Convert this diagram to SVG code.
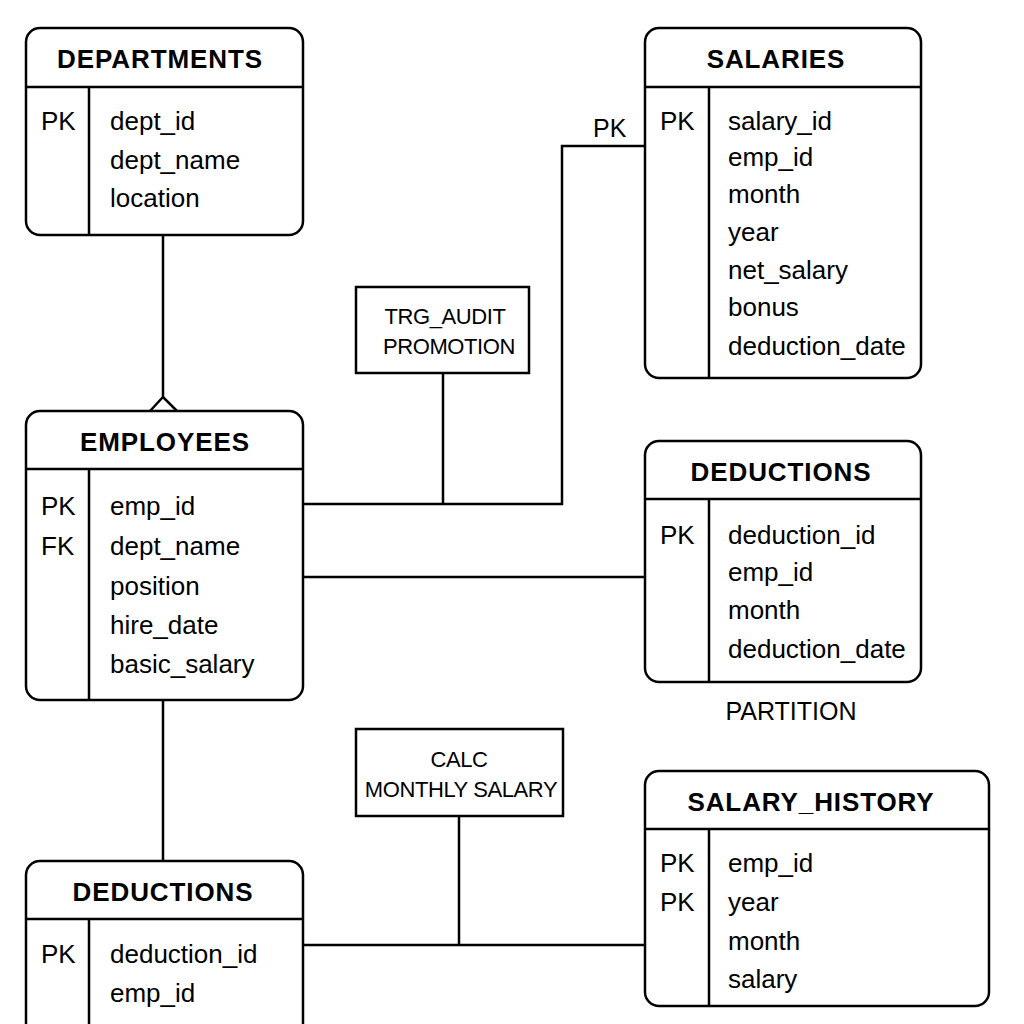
<svg xmlns="http://www.w3.org/2000/svg" width="1024" height="1024" viewBox="0 0 1024 1024">
<style>
.box{fill:#fff;stroke:#000;stroke-width:2.5}
.ln{fill:none;stroke:#000;stroke-width:2.5}
.t{font-family:"Liberation Sans",Arial,sans-serif;font-size:26px;font-weight:bold;text-anchor:middle;fill:#000;letter-spacing:0.9px}
.f{font-family:"Liberation Sans",Arial,sans-serif;font-size:26px;fill:#000}
.s{font-family:"Liberation Sans",Arial,sans-serif;font-size:22px;fill:#000;text-anchor:middle;letter-spacing:-0.4px}
</style>
<rect width="1024" height="1024" fill="#fff"/>
<g id="connectors">
<line class="ln" x1="163" y1="235" x2="163" y2="397"/>
<polyline class="ln" points="150,411 163,397 177,411"/>
<line class="ln" x1="163" y1="700" x2="163" y2="861"/>
<polyline class="ln" points="303,504 562,504 562,146 645,146"/>
<line class="ln" x1="443" y1="373" x2="443" y2="504"/>
<line class="ln" x1="303" y1="577" x2="645" y2="577"/>
<line class="ln" x1="303" y1="945" x2="645" y2="945"/>
<line class="ln" x1="459" y1="816" x2="459" y2="945"/>
<text class="f" x="593" y="137" style="font-size:25px">PK</text>
<text class="f" x="791" y="720" text-anchor="middle" style="font-size:25px">PARTITION</text>
</g>
<g id="departments">
<rect class="box" x="26" y="28" width="277" height="207" rx="14"/>
<line class="ln" x1="26" y1="87" x2="303" y2="87"/>
<line class="ln" x1="89" y1="87" x2="89" y2="235"/>
<text class="t" x="160" y="68">DEPARTMENTS</text>
<text class="f" x="41" y="130">PK</text>
<text class="f" x="110" y="130">dept_id</text>
<text class="f" x="110" y="169">dept_name</text>
<text class="f" x="110" y="207">location</text>
</g>
<g id="employees">
<rect class="box" x="26" y="411" width="277" height="289" rx="14"/>
<line class="ln" x1="26" y1="469" x2="303" y2="469"/>
<line class="ln" x1="89" y1="469" x2="89" y2="700"/>
<text class="t" x="165" y="451">EMPLOYEES</text>
<text class="f" x="41" y="515">PK</text>
<text class="f" x="41" y="555">FK</text>
<text class="f" x="110" y="515">emp_id</text>
<text class="f" x="110" y="555">dept_name</text>
<text class="f" x="110" y="595">position</text>
<text class="f" x="110" y="634">hire_date</text>
<text class="f" x="110" y="673">basic_salary</text>
</g>
<g id="deductions_bottom">
<rect class="box" x="26" y="861" width="277" height="190" rx="14"/>
<line class="ln" x1="26" y1="919" x2="303" y2="919"/>
<line class="ln" x1="89" y1="919" x2="89" y2="1030"/>
<text class="t" x="163" y="901">DEDUCTIONS</text>
<text class="f" x="41" y="963">PK</text>
<text class="f" x="110" y="963">deduction_id</text>
<text class="f" x="110" y="1002">emp_id</text>
</g>
<g id="salaries">
<rect class="box" x="645" y="28" width="276" height="350" rx="14"/>
<line class="ln" x1="645" y1="87" x2="921" y2="87"/>
<line class="ln" x1="709" y1="87" x2="709" y2="378"/>
<text class="t" x="776" y="68">SALARIES</text>
<text class="f" x="660" y="130">PK</text>
<text class="f" x="728" y="130">salary_id</text>
<text class="f" x="728" y="166">emp_id</text>
<text class="f" x="728" y="203">month</text>
<text class="f" x="728" y="241">year</text>
<text class="f" x="728" y="279">net_salary</text>
<text class="f" x="728" y="316">bonus</text>
<text class="f" x="728" y="355">deduction_date</text>
</g>
<g id="deductions_right">
<rect class="box" x="645" y="441" width="276" height="241" rx="14"/>
<line class="ln" x1="645" y1="499" x2="921" y2="499"/>
<line class="ln" x1="709" y1="499" x2="709" y2="682"/>
<text class="t" x="781" y="481">DEDUCTIONS</text>
<text class="f" x="660" y="544">PK</text>
<text class="f" x="728" y="544">deduction_id</text>
<text class="f" x="728" y="581">emp_id</text>
<text class="f" x="728" y="619">month</text>
<text class="f" x="728" y="658">deduction_date</text>
</g>
<g id="salary_history">
<rect class="box" x="645" y="771" width="344" height="235" rx="14"/>
<line class="ln" x1="645" y1="829" x2="989" y2="829"/>
<line class="ln" x1="709" y1="829" x2="709" y2="1006"/>
<text class="t" x="811" y="811">SALARY_HISTORY</text>
<text class="f" x="660" y="872">PK</text>
<text class="f" x="660" y="911">PK</text>
<text class="f" x="728" y="872">emp_id</text>
<text class="f" x="728" y="911">year</text>
<text class="f" x="728" y="950">month</text>
<text class="f" x="728" y="988">salary</text>
</g>
<g id="trg_audit_promotion">
<rect class="box" x="356" y="287" width="173" height="86"/>
<text class="s" x="445" y="324">TRG_AUDIT</text>
<text class="s" x="449" y="354">PROMOTION</text>
</g>
<g id="calc_monthly_salary">
<rect class="box" x="356" y="729" width="207" height="87"/>
<text class="s" x="459" y="767">CALC</text>
<text class="s" x="461" y="797">MONTHLY SALARY</text>
</g>
</svg>
